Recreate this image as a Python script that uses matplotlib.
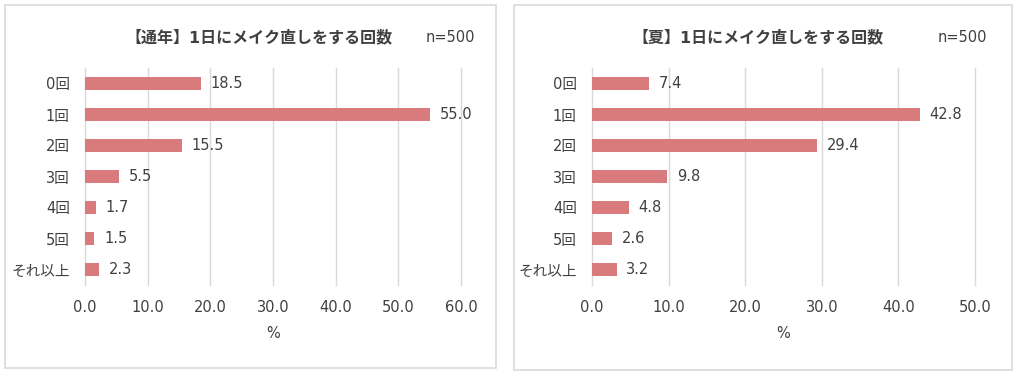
import matplotlib.pyplot as plt
from matplotlib.patches import Rectangle

plt.rcParams['font.family'] = ['DejaVu Sans', 'Noto Sans CJK JP']

categories = ['0回', '1回', '2回', '3回', '4回', '5回', 'それ以上']
year_vals = [18.5, 55.0, 15.5, 5.5, 1.7, 1.5, 2.3]
summer_vals = [7.4, 42.8, 29.4, 9.8, 4.8, 2.6, 3.2]
year_ticks = [0, 10, 20, 30, 40, 50, 60]
summer_ticks = [0, 10, 20, 30, 40, 50]

W, H = 1018, 376
bar_color = '#D97B7C'
grid_color = '#D9D9D9'
text_color = '#404040'

fig = plt.figure(figsize=(W / 100, H / 100), dpi=100)
fig.patch.set_facecolor('white')

# panel borders
for x0, x1, y1 in [(5, 496, 368), (514, 1012, 370)]:
    fig.patches.append(Rectangle((x0 / W, 1 - y1 / H), (x1 - x0) / W, (y1 - 5) / H,
                                 transform=fig.transFigure, fill=False,
                                 edgecolor=grid_color, linewidth=1.2))


def panel(left, right, vals, ticks, title, tcx, ncx):
    ax = fig.add_axes([left / W, 1 - 285 / H, (right - left) / W, (285 - 68) / H])
    y = list(range(len(categories)))
    ax.barh(y, vals, height=0.4, color=bar_color, zorder=3)
    for yi, v in zip(y, vals):
        ax.annotate(f'{v:.1f}', (v, yi), xytext=(7, 0), textcoords='offset points',
                    va='center', ha='left', fontsize=10.5, color=text_color)
    ax.set_xlim(ticks[0], ticks[-1])
    ax.set_ylim(len(categories) - 0.5, -0.5)
    ax.set_yticks(y)
    ax.set_yticklabels(categories)
    ax.set_xticks(ticks)
    ax.set_xticklabels([f'{t:.1f}' for t in ticks])
    ax.tick_params(axis='both', length=0, labelsize=10.5, labelcolor=text_color)
    ax.tick_params(axis='y', pad=11)
    ax.tick_params(axis='x', pad=11)
    ax.grid(axis='x', color=grid_color, linewidth=1, zorder=0)
    for gl in ax.get_xgridlines():
        gl.set_clip_on(False)
    for s in ax.spines.values():
        s.set_visible(False)
    ax.set_xlabel('%', fontsize=10.5, color=text_color, labelpad=8)
    fig.text(tcx / W, 1 - 37 / H, title, ha='center', va='center',
             fontsize=11.5, fontweight='bold', color=text_color)
    fig.text(ncx / W, 1 - 37 / H, 'n=500', ha='center', va='center',
             fontsize=10.5, color=text_color)


panel(85, 461, year_vals, year_ticks, '【通年】1日にメイク直しをする回数', 259, 450)
panel(592, 975, summer_vals, summer_ticks, '【夏】1日にメイク直しをする回数', 758, 962)

fig.savefig('out.png', dpi=100)
